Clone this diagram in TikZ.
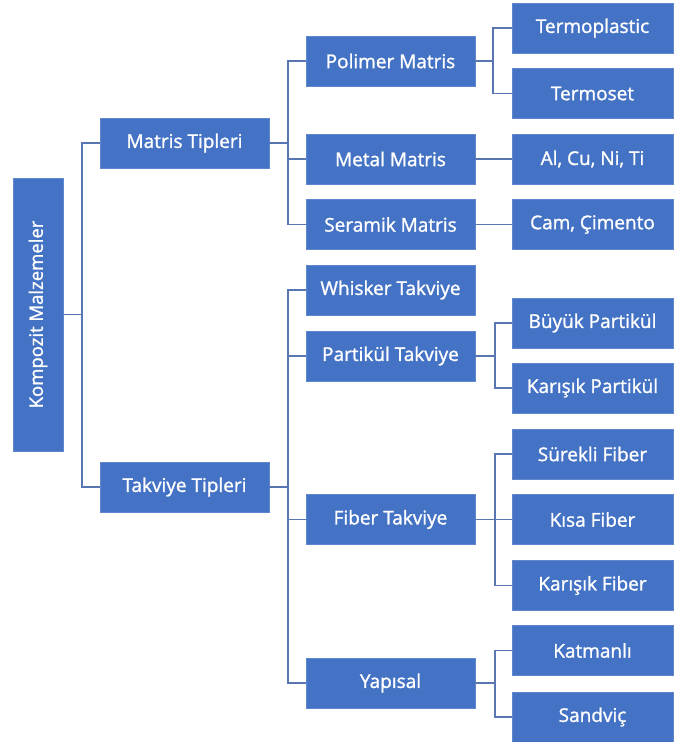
\documentclass[tikz,border=0pt]{standalone}
\usepackage{fontspec}
\setmainfont{Open Sans}
\newfontfamily\boxfont{Open Sans}[FakeBold=1.3]
\definecolor{boxblue}{HTML}{4472C4}
\definecolor{lineblue}{RGB}{88,118,178}
\begin{document}
\begin{tikzpicture}[x=1pt,y=-1pt,
  box/.style={fill=boxblue,draw=boxblue!85!white,line width=0.6pt,text=white,inner sep=0pt,
    font=\boxfont\fontsize{19}{21}\selectfont},
  midbox/.style={box,minimum width=169pt,minimum height=50pt},
  leafbox/.style={box,minimum width=161pt,minimum height=50pt},
  conn/.style={draw=lineblue,line width=1.5pt}]
\useasboundingbox (0,0) rectangle (673,742);
\fill[white] (0,0) rectangle (673,742);
% root
\node[box,minimum width=50pt,minimum height=273pt] (kom) at (38,314.5) {};
\node[text=white,rotate=90,font=\boxfont\fontsize{18.5}{20}\selectfont] (komt) at (kom.center) {Kompozit Malzemeler};
% level 1
\node[midbox] (mat) at (184.5,143) {Matris Tipleri};
\node[midbox] (tak) at (184.5,487) {Takviye Tipleri};
% level 2
\node[midbox] (pol) at (390.5,61) {Polimer Matris};
\node[midbox] (met) at (390.5,159) {Metal Matris};
\node[midbox] (ser) at (390.5,224.5) {Seramik Matris};
\node[midbox] (whi) at (390.5,290) {Whisker Takviye};
\node[midbox] (par) at (390.5,356) {Partikül Takviye};
\node[midbox] (fib) at (390.5,519.5) {Fiber Takviye};
\node[midbox] (yap) at (390.5,683) {Yapısal};
% level 3
\node[leafbox] (tpl) at (592.5,28) {Termoplastic};
\node[leafbox] (tst) at (592.5,93.5) {Termoset};
\node[leafbox] (alc) at (592.5,159) {Al, Cu, Ni, Ti};
\node[leafbox] (cam) at (592.5,224.5) {Cam, Çimento};
\node[leafbox] (buy) at (592.5,323) {Büyük Partikül};
\node[leafbox] (kap) at (592.5,388) {Karışık Partikül};
\node[leafbox] (sur) at (592.5,454) {Sürekli Fiber};
\node[leafbox] (kis) at (592.5,519.5) {Kısa Fiber};
\node[leafbox] (kaf) at (592.5,585.5) {Karışık Fiber};
\node[leafbox] (kat) at (592.5,650.5) {Katmanlı};
\node[leafbox] (san) at (592.5,717) {Sandviç};
% junctions
\coordinate (j1) at (82,314.5);
\coordinate (j2) at (288,143);
\coordinate (j3) at (288,487);
\coordinate (j4) at (493,61);
\coordinate (j5) at (495,356);
\coordinate (j6) at (495,519.5);
\coordinate (j7) at (495,683);
% connectors
\draw[conn] (kom.east) -- (j1);
\draw[conn] (j1) |- (mat.west);
\draw[conn] (j1) |- (tak.west);
\draw[conn] (mat.east) -- (j2);
\draw[conn] (j2) |- (pol.west);
\draw[conn] (j2) |- (met.west);
\draw[conn] (j2) |- (ser.west);
\draw[conn] (tak.east) -- (j3);
\draw[conn] (j3) |- (whi.west);
\draw[conn] (j3) |- (par.west);
\draw[conn] (j3) |- (fib.west);
\draw[conn] (j3) |- (yap.west);
\draw[conn] (pol.east) -- (j4);
\draw[conn] (j4) |- (tpl.west);
\draw[conn] (j4) |- (tst.west);
\draw[conn] (met.east) -- (alc.west);
\draw[conn] (ser.east) -- (cam.west);
\draw[conn] (par.east) -- (j5);
\draw[conn] (j5) |- (buy.west);
\draw[conn] (j5) |- (kap.west);
\draw[conn] (fib.east) -- (j6);
\draw[conn] (j6) |- (sur.west);
\draw[conn] (j6) |- (kis.west);
\draw[conn] (j6) |- (kaf.west);
\draw[conn] (yap.east) -- (j7);
\draw[conn] (j7) |- (kat.west);
\draw[conn] (j7) |- (san.west);
\end{tikzpicture}
\end{document}
